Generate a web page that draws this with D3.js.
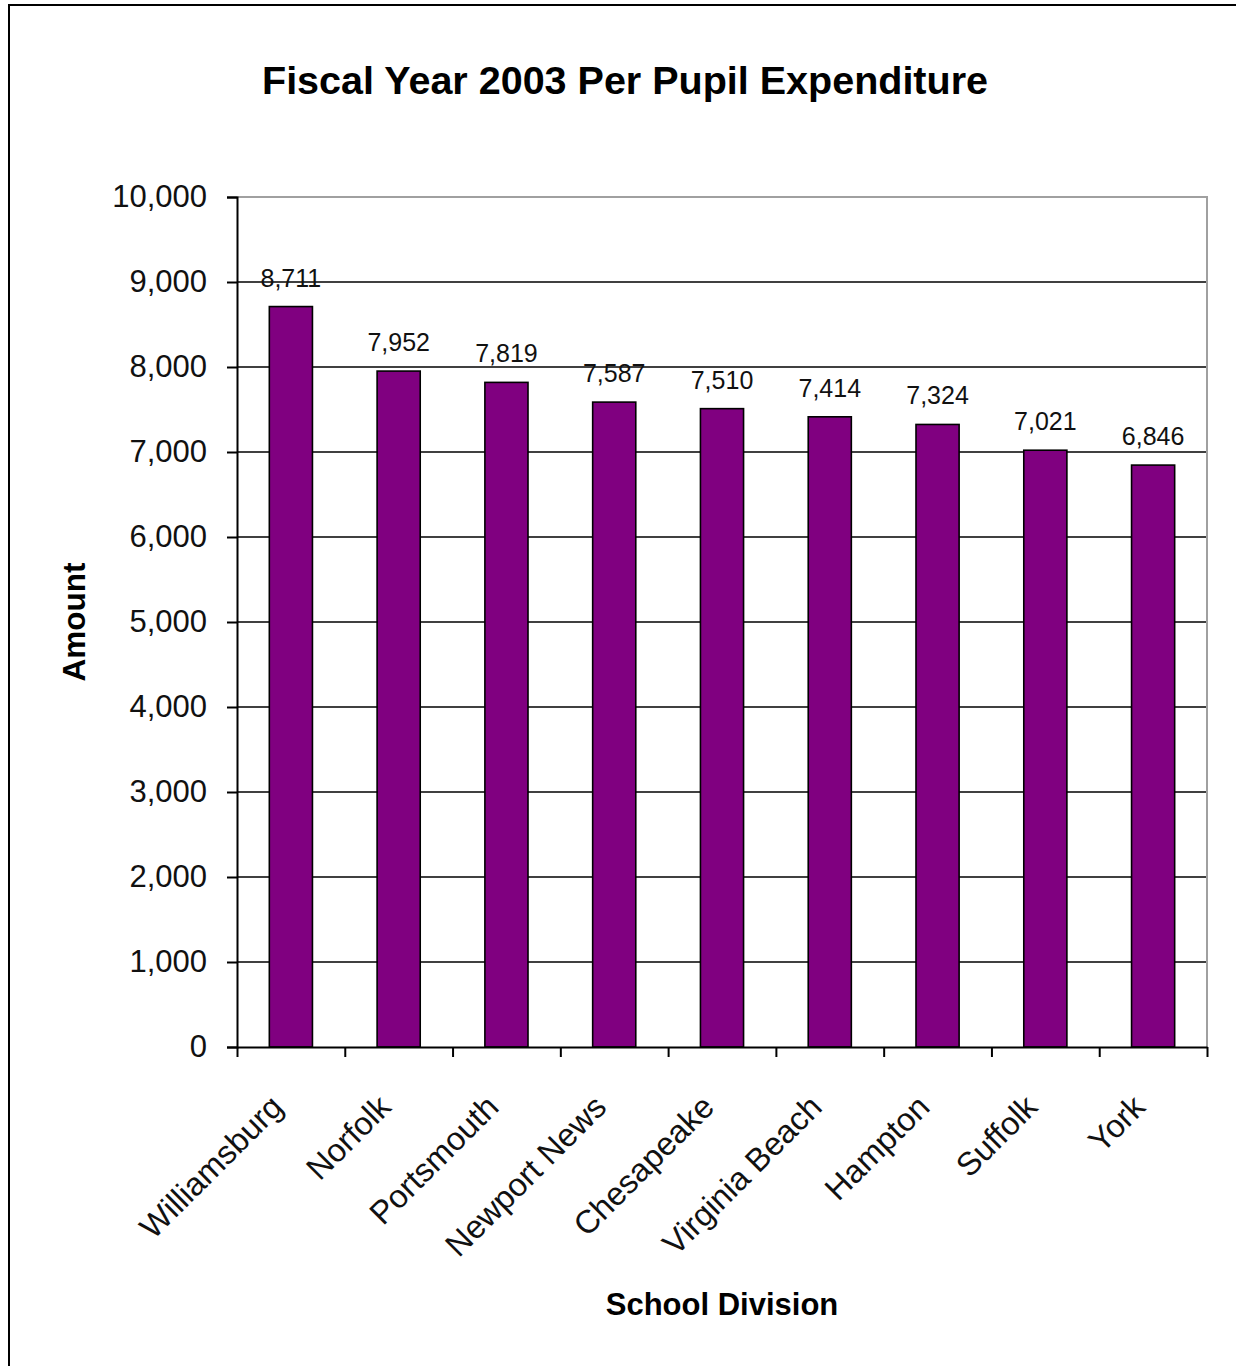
<!DOCTYPE html>
<html>
<head>
<meta charset="utf-8">
<script src="https://cdn.jsdelivr.net/npm/d3@7"></script>
<style>
  html, body { margin: 0; padding: 0; background: #fff; }
  text { font-family: Arial, "Liberation Sans", sans-serif; }
</style>
</head>
<body>
<div id="chart"></div>
<script>
const divisions = ["Williamsburg", "Norfolk", "Portsmouth", "Newport News", "Chesapeake",
  "Virginia Beach", "Hampton", "Suffolk", "York"];
const amounts = [8711, 7952, 7819, 7587, 7510, 7414, 7324, 7021, 6846];
const yTicks = [0, 1000, 2000, 3000, 4000, 5000, 6000, 7000, 8000, 9000, 10000];

const width = 1236;
const height = 1366;
const margin = { top: 197, right: 29, bottom: 319, left: 237 };
const plotW = width - margin.left - margin.right;
const plotH = height - margin.top - margin.bottom;

const svg = d3.select("#chart")
  .append("svg")
  .attr("width", width)
  .attr("height", height);

// outer chart frame (runs off the right and bottom edges)
svg.append("rect")
  .attr("x", 9).attr("y", 5)
  .attr("width", 1400).attr("height", 1500)
  .attr("fill", "none")
  .attr("stroke", "#000")
  .attr("stroke-width", 2);

svg.append("text")
  .attr("x", 625).attr("y", 94)
  .attr("text-anchor", "middle")
  .style("font-size", "39.5px")
  .style("font-weight", "bold")
  .text("Fiscal Year 2003 Per Pupil Expenditure");

const g = svg.append("g").attr("transform", `translate(${margin.left},${margin.top})`);

const x = d3.scaleBand().domain(divisions).range([0, plotW]).paddingInner(0.6).paddingOuter(0.3);
const xEdge = d3.scaleLinear().domain([0, divisions.length]).range([0, plotW]);
const y = d3.scaleLinear().domain([0, 10000]).range([plotH, 0]);

// gridlines
g.selectAll(".grid")
  .data(yTicks.filter(t => t > 0 && t < 10000))
  .join("line")
  .attr("x1", 0).attr("x2", plotW)
  .attr("y1", d => y(d)).attr("y2", d => y(d))
  .attr("stroke", "#000")
  .attr("stroke-width", 1.6);

// plot area border top/right
g.append("path")
  .attr("d", `M0,${y(10000)}H${plotW}V${plotH}`)
  .attr("fill", "none")
  .attr("stroke", "#a0a0a0")
  .attr("stroke-width", 2);

// bars
g.selectAll(".bar")
  .data(amounts)
  .join("rect")
  .attr("x", (d, i) => x(divisions[i]))
  .attr("y", d => y(d))
  .attr("width", x.bandwidth())
  .attr("height", d => plotH - y(d))
  .attr("fill", "#800080")
  .attr("stroke", "#000")
  .attr("stroke-width", 1.6);

// value labels
g.selectAll(".val")
  .data(amounts)
  .join("text")
  .attr("x", (d, i) => x(divisions[i]) + x.bandwidth() / 2)
  .attr("y", d => y(d) - 20)
  .attr("text-anchor", "middle")
  .style("font-size", "25px")
  .attr("fill", "#111")
  .text(d => d3.format(",")(d));

// y axis
const yAxis = g.append("g")
  .call(d3.axisLeft(y).tickValues(yTicks).tickFormat(d3.format(",")).tickSize(10).tickPadding(20));
yAxis.select(".domain").attr("stroke", "#000").attr("stroke-width", 2);
yAxis.selectAll(".tick line").attr("stroke", "#000").attr("stroke-width", 2);
yAxis.selectAll(".tick text")
  .attr("fill", "#111")
  .style("font-size", "31px")
  .style("font-family", "Arial, 'Liberation Sans', sans-serif");

// x axis with ticks at category boundaries
const xAxis = g.append("g")
  .attr("transform", `translate(0,${plotH})`)
  .call(d3.axisBottom(xEdge).tickValues(d3.range(divisions.length + 1)).tickFormat("").tickSize(10).tickSizeOuter(0));
xAxis.select(".domain").attr("stroke", "#000").attr("stroke-width", 2);
xAxis.selectAll(".tick line").attr("stroke", "#000").attr("stroke-width", 2);

// rotated category labels
g.selectAll(".cat")
  .data(divisions)
  .join("text")
  .attr("transform", d => `translate(${x(d) + x.bandwidth() / 2 - 6},${plotH + 62}) rotate(-45)`)
  .attr("text-anchor", "end")
  .attr("fill", "#111")
  .style("font-size", "32.5px")
  .text(d => d);

// axis titles
svg.append("text")
  .attr("transform", `translate(85,${margin.top + plotH / 2}) rotate(-90)`)
  .attr("text-anchor", "middle")
  .style("font-size", "31.5px")
  .style("font-weight", "bold")
  .text("Amount");

svg.append("text")
  .attr("x", margin.left + plotW / 2)
  .attr("y", 1315)
  .attr("text-anchor", "middle")
  .style("font-size", "31px")
  .style("font-weight", "bold")
  .text("School Division");
</script>
</body>
</html>
